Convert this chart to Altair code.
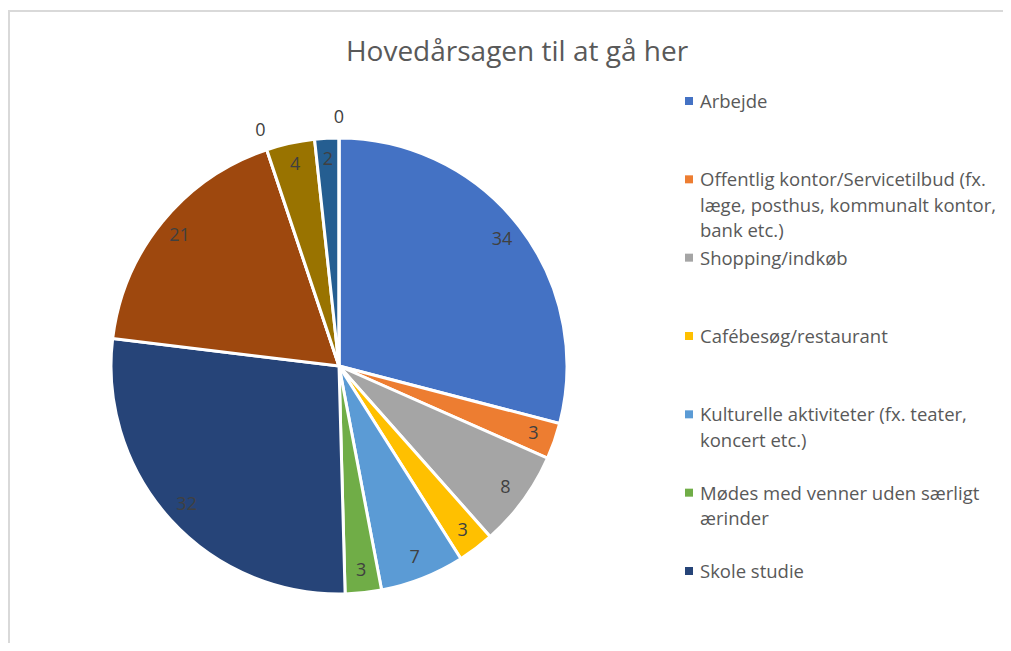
import altair as alt
import pandas as pd

# ---- data ----
categories = [
    "Arbejde",
    "Offentlig kontor/Servicetilbud (fx. læge, posthus, kommunalt kontor, bank etc.)",
    "Shopping/indkøb",
    "Cafébesøg/restaurant",
    "Kulturelle aktiviteter (fx. teater, koncert etc.)",
    "Mødes med venner uden særligt ærinder",
    "Skole studie",
    "Kategori 8",
    "Kategori 9",
    "Kategori 10",
    "Kategori 11",
    "Kategori 12",
]
values = [34, 3, 8, 3, 7, 3, 32, 21, 0, 4, 2, 0]
colors = ["#4472C4", "#ED7D31", "#A5A5A5", "#FFC000", "#5B9BD5", "#70AD47",
          "#264478", "#9E480E", "#636363", "#997300", "#255E91", "#43682B"]

# legend as visible in the picture (first 7 entries, wrapped like the original)
legend_labels = [
    "Arbejde",
    "Offentlig kontor/Servicetilbud (fx.|læge, posthus, kommunalt kontor,|bank etc.)",
    "Shopping/indkøb",
    "Cafébesøg/restaurant",
    "Kulturelle aktiviteter (fx. teater,|koncert etc.)",
    "Mødes med venner uden særligt|ærinder",
    " Skole studie",
]
title_text = "Hovedårsagen til at gå her"

df = pd.DataFrame({
    "idx": list(range(len(categories))),
    "cat": categories,
    "value": values,
})
df["lab_in"] = [str(v) if v > 0 else "" for v in values]
df["lab_out"] = [str(v) if v == 0 else "" for v in values]

leg = pd.DataFrame({
    "li": list(range(len(legend_labels))),
    "cat": categories[:len(legend_labels)],
    "label": legend_labels,
})

W, H = 995, 635
CX, CY, R = 331, 358, 228
FONT = "Open Sans"

color_scale = alt.Scale(domain=categories, range=colors)

base = alt.Chart(df).encode(
    theta=alt.Theta("value:Q", stack=True),
    order=alt.Order("idx:Q"),
)

arcs = base.mark_arc(radius=R, stroke="white", strokeWidth=3).encode(
    color=alt.Color("cat:N", scale=color_scale, legend=None),
    x=alt.value(CX), y=alt.value(CY),
)
lab_in = base.mark_text(radius=206, font=FONT, fontSize=18, color="#404040").encode(
    text="lab_in:N", x=alt.value(CX), y=alt.value(CY),
)
lab_out = base.mark_text(radius=248, font=FONT, fontSize=18, color="#404040").encode(
    text="lab_out:N", x=alt.value(CX), y=alt.value(CY),
)

title = alt.Chart(pd.DataFrame({"t": [title_text]})).mark_text(
    font=FONT, fontSize=28, color="#595959"
).encode(text="t:N", x=alt.value(509), y=alt.value(45))

ly = alt.Y("li:O", scale=alt.Scale(type="point", range=[93, 563], padding=0), axis=None)
leg_sym = alt.Chart(leg).mark_square(size=64, opacity=1).encode(
    x=alt.value(681), y=ly,
    color=alt.Color("cat:N", scale=color_scale, legend=None),
)
leg_txt = alt.Chart(leg).mark_text(
    font=FONT, fontSize=18.5, color="#595959", align="left", baseline="top",
    lineBreak="|", lineHeight=25.5, dy=-8,
).encode(x=alt.value(692), y=ly, text="label:N")

frame_left = alt.Chart(df).mark_rule(color="#D9D9D9", strokeWidth=2).encode(
    x=alt.value(1), y=alt.value(2), y2=alt.value(H + 8)
)
frame_top = alt.Chart(df).mark_rule(color="#D9D9D9", strokeWidth=2).encode(
    x=alt.value(0), x2=alt.value(W + 8), y=alt.value(3)
)

chart = alt.layer(
    frame_left, frame_top, arcs, lab_in, lab_out, title, leg_sym, leg_txt
).properties(
    width=W, height=H, padding=0, autosize=alt.AutoSizeParams(type="none")
).configure_view(stroke=None)

chart.save("out.html", embed_options={"renderer": "svg", "actions": False})
